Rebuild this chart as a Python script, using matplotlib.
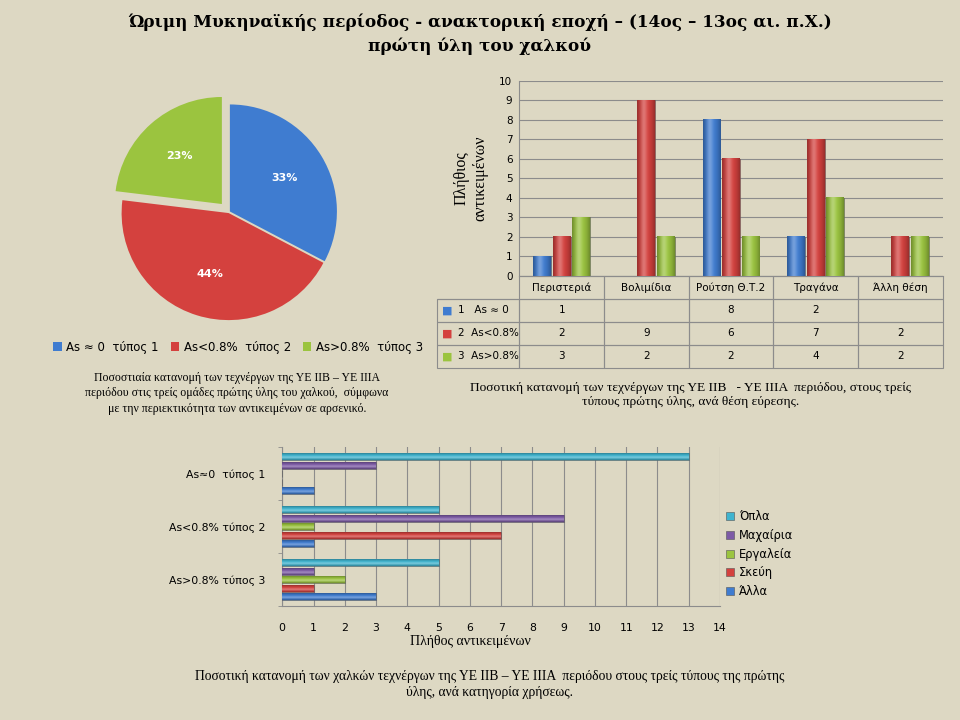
import matplotlib.pyplot as plt
import matplotlib.colors as mcolors
import numpy as np

# Data
pie_labels = ['As ≈ 0  τύπος 1', 'As<0.8%  τύπος 2', 'As>0.8%  τύπος 3']
pie_values = [17, 23, 12]

sites = ['Περιστεριά', 'Βολιμίδια', 'Ρούτση Θ.Τ.2', 'Τραγάνα', 'Άλλη θέση']
row_labels = ['1   As ≈ 0', '2  As<0.8%', '3  As>0.8%']
type1 = [1, 0, 8, 2, 0]
type2 = [2, 9, 6, 7, 2]
type3 = [3, 2, 2, 4, 2]
type1_txt = ['1', '', '8', '2', '']
type2_txt = ['2', '9', '6', '7', '2']
type3_txt = ['3', '2', '2', '4', '2']

groups = ['As≈0  τύπος 1', 'As<0.8% τύπος 2', 'As>0.8% τύπος 3']
uses = ['Όπλα', 'Μαχαίρια', 'Εργαλεία', 'Σκεύη', 'Άλλα']
opla = [13, 5, 5]
maxairia = [3, 9, 1]
ergaleia = [0, 1, 2]
skeui = [0, 7, 1]
alla = [1, 1, 3]

bg = '#ddd8c3'
grid_c = '#8c8c8c'
c3 = ['#3f7cd0', '#d4413e', '#9bc43f']
c5 = ['#3fb4cf', '#7d5ba6', '#9bc43f', '#d4413e', '#3f7cd0']


def shade(ax, bars, color, horizontal=False):
    # cylinder-like gradient clipped to each bar
    base = np.array(mcolors.to_rgb(color))
    t = np.linspace(0, 1, 40)
    dark = 0.72 + 0.28 * (1 - (2 * t - 1) ** 2)
    hl = 0.28 * np.exp(-((t - 0.38) / 0.18) ** 2)
    rgb = base[None, :] * dark[:, None]
    rgb = rgb + (1 - rgb) * hl[:, None]
    img = rgb[None, :, :] if not horizontal else rgb[:, None, :]
    for b in bars:
        x0, y0 = b.get_xy()
        w, h = b.get_width(), b.get_height()
        if w == 0 or h == 0:
            continue
        ax.imshow(img, extent=[x0, x0 + w, y0, y0 + h], aspect='auto',
                  zorder=3.5, clip_path=b, interpolation='bilinear')


fig = plt.figure(figsize=(9.6, 7.2), dpi=100, facecolor=bg)

# Title
fig.text(0.5, 0.969, 'Ώριμη Μυκηναϊκής περίοδος - ανακτορική εποχή – (14ος – 13ος αι. π.Χ.)',
         ha='center', va='center', fontsize=12.2, fontweight='bold', family='DejaVu Serif')
fig.text(0.5, 0.936, 'πρώτη ύλη του χαλκού',
         ha='center', va='center', fontsize=12.2, fontweight='bold', family='DejaVu Serif')

# Pie
ax1 = fig.add_axes([0.1135, 0.539, 0.25, 0.333])
ax1.set_facecolor(bg)
wedges, _, autotexts = ax1.pie(pie_values, colors=c3, startangle=90, counterclock=False,
                               explode=[0.01, 0.01, 0.1], autopct='%1.0f%%', pctdistance=0.6,
                               wedgeprops=dict(edgecolor='none'))
for t in autotexts:
    t.set_color('white')
    t.set_fontsize(8)
    t.set_fontweight('bold')
ax1.set_xlim(-1.12, 1.12)
ax1.set_ylim(-1.12, 1.12)
fig.legend(wedges, pie_labels, loc='center', bbox_to_anchor=(0.248, 0.518), ncol=3,
           frameon=False, fontsize=8.5, handlelength=0.7, handleheight=0.7,
           handletextpad=0.4, columnspacing=1.0)

fig.text(0.247, 0.454, 'Ποσοστιαία κατανομή των τεχνέργων της ΥΕ ΙΙΒ – ΥΕ ΙΙΙΑ\n'
         'περιόδου στις τρείς ομάδες πρώτης ύλης του χαλκού,  σύμφωνα\n'
         'με την περιεκτικότητα των αντικειμένων σε αρσενικό.',
         ha='center', va='center', fontsize=8.5, family='Liberation Serif', linespacing=1.4)

# Vertical bars by site
ax2 = fig.add_axes([0.541, 0.617, 0.441, 0.271])
ax2.set_facecolor(bg)
x = np.arange(len(sites))
w = 0.21
step = 0.23
for i, (vals, col) in enumerate(zip([type1, type2, type3], c3)):
    bars = ax2.bar(x + (i - 1) * step, vals, width=w, color=col, edgecolor='#555555',
                   linewidth=0.4, zorder=3)
    shade(ax2, bars, col)
ax2.set_xlim(-0.5, len(sites) - 0.5)
ax2.set_ylim(0, 10)
ax2.set_yticks(range(0, 11))
ax2.yaxis.grid(True, color=grid_c, linewidth=0.8, zorder=0)
ax2.set_xticks([])
for s in ['top', 'right']:
    ax2.spines[s].set_visible(False)
ax2.spines['left'].set_color(grid_c)
ax2.spines['bottom'].set_color(grid_c)
ax2.tick_params(axis='y', length=0, labelsize=7.5, pad=5)
ax2.set_ylabel('Πλήθιος\nαντικειμένων', family='Liberation Serif', fontsize=11.5, labelpad=8)

cell_text = [[lab] + txt for lab, txt in zip(row_labels, [type1_txt, type2_txt, type3_txt])]
tbl = ax2.table(cellText=cell_text, colLabels=[''] + sites, cellLoc='center',
                colWidths=[82 / 505] + [84.6 / 505] * 5,
                bbox=[-0.194, -0.472, 1.194, 0.472])
tbl.auto_set_font_size(False)
tbl.set_fontsize(7.5)
for (r, c), cell in tbl.get_celld().items():
    cell.set_edgecolor(grid_c)
    cell.set_linewidth(0.8)
    cell.set_facecolor('none')
    if r == 0 and c == 0:
        cell.visible_edges = 'B'
    elif c == 0:
        cell.get_text().set_text('    ' + cell.get_text().get_text())
        cell.get_text().set_ha('left')
        cell._loc = 'left'
row_y = [-0.177, -0.295, -0.413]
for yy, col in zip(row_y, c3):
    ax2.text(-0.170, yy, '■', color=col, fontsize=8, ha='center', va='center',
             transform=ax2.transAxes)

fig.text(0.719, 0.451, 'Ποσοτική κατανομή των τεχνέργων της ΥΕ ΙΙΒ   - ΥΕ ΙΙΙΑ  περιόδου, στους τρείς\n'
         'τύπους πρώτης ύλης, ανά θέση εύρεσης.',
         ha='center', va='center', fontsize=9.6, family='Liberation Serif', linespacing=1.2)

# Horizontal bars by use
ax3 = fig.add_axes([0.294, 0.158, 0.456, 0.221])
ax3.set_facecolor(bg)
y = np.arange(len(groups))
hstep = 0.16
hh = 0.13
series = [opla, maxairia, ergaleia, skeui, alla]
for i, (vals, col, lab) in enumerate(zip(series, c5, uses)):
    bars = ax3.barh(y + (i - 2) * hstep, vals, height=hh, color=col, edgecolor='#555555',
                    linewidth=0.4, label=lab, zorder=3)
    shade(ax3, bars, col, horizontal=True)
ax3.set_xlim(0, 14)
ax3.set_ylim(len(groups) - 0.5, -0.5)
ax3.set_xticks(range(0, 15))
ax3.xaxis.grid(True, color=grid_c, linewidth=0.8, zorder=0)
ax3.set_yticks(y)
ax3.set_yticklabels(groups)
ax3.set_yticks(np.arange(-0.5, len(groups), 1), minor=True)
ax3.tick_params(axis='y', which='major', length=0, labelsize=7.8, pad=12)
ax3.tick_params(axis='y', which='minor', length=3, color=grid_c)
ax3.tick_params(axis='x', length=0, labelsize=7.8, pad=12)
for s in ['top', 'right']:
    ax3.spines[s].set_visible(False)
ax3.spines['left'].set_color(grid_c)
ax3.spines['bottom'].set_color(grid_c)
ax3.set_xlabel('Πλήθος αντικειμένων', family='Liberation Serif', fontsize=10)
ax3.xaxis.set_label_coords(0.43, -0.18)
ax3.legend(loc='center left', bbox_to_anchor=(0.99, 0.327), frameon=False, fontsize=8.3,
           handlelength=0.7, handleheight=0.7, handletextpad=0.4, labelspacing=0.5)

fig.text(0.51, 0.049, 'Ποσοτική κατανομή των χαλκών τεχνέργων της ΥΕ ΙΙΒ – ΥΕ ΙΙΙΑ  περιόδου στους τρείς τύπους της πρώτης\n'
         'ύλης, ανά κατηγορία χρήσεως.',
         ha='center', va='center', fontsize=9.8, family='Liberation Serif', linespacing=1.25)

fig.savefig('out.png', dpi=100, facecolor=bg)
